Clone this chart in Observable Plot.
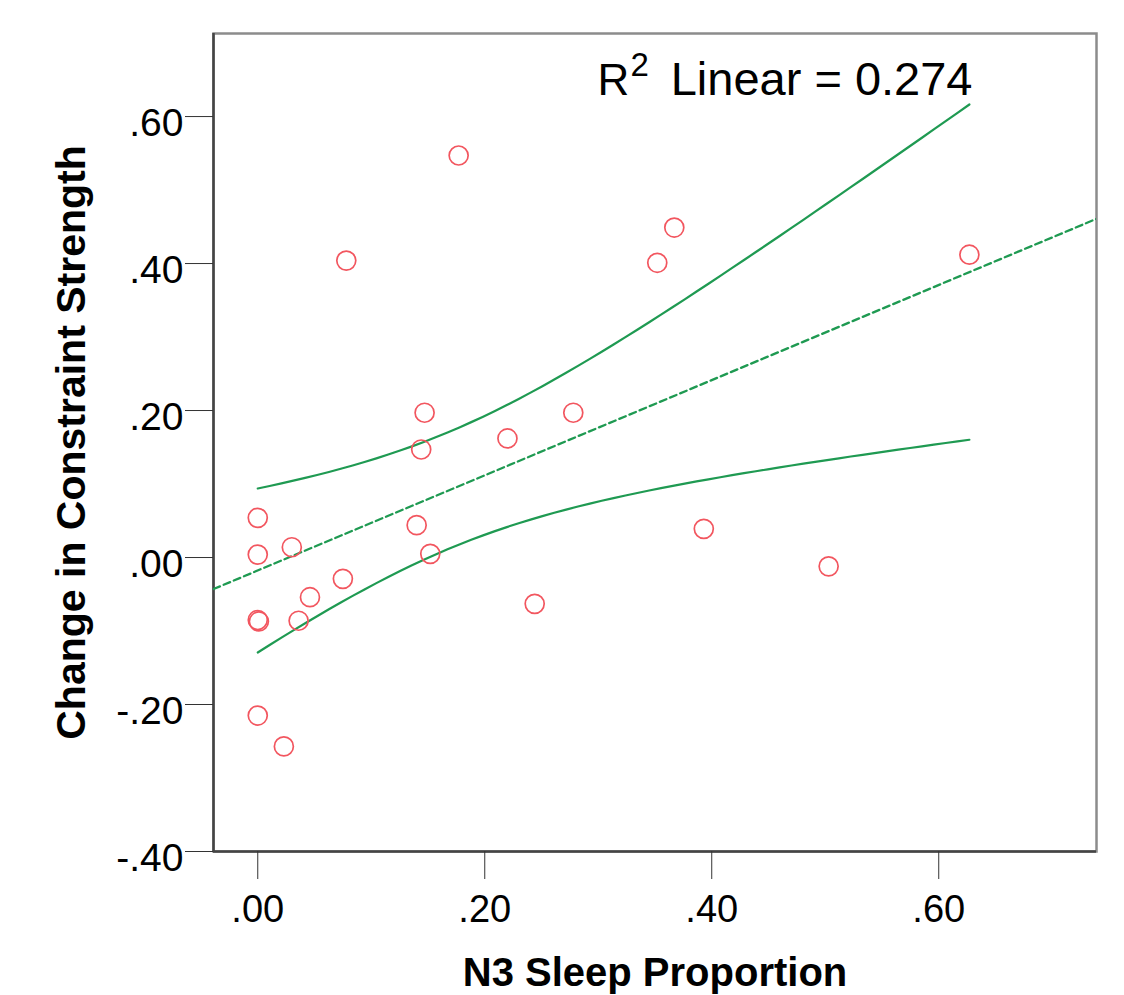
<!DOCTYPE html>
<html><head><meta charset="utf-8">
<script src="https://cdn.jsdelivr.net/npm/d3@7"></script>
<script src="https://cdn.jsdelivr.net/npm/@observablehq/plot@0.6"></script>
<style>body{margin:0;background:#fff}</style>
</head><body><div id="chart"></div>
<script>
// Data
const n3Sleep = [0, 0, 0, 0.001, 0, 0.023, 0.030, 0.046, 0.036, 0.075, 0.078, 0.140, 0.147, 0.144, 0.152, 0.177, 0.220, 0.244, 0.278, 0.352, 0.367, 0.393, 0.503, 0.627];
const constraintChange = [0.054, 0.004, -0.085, -0.087, -0.215, -0.257, 0.014, -0.054, -0.086, -0.029, 0.404, 0.044, 0.197, 0.147, 0.005, 0.547, 0.162, -0.063, 0.197, 0.401, 0.449, 0.039, -0.012, 0.412];
const xTicks = [0, 0.2, 0.4, 0.6];
const yTicks = [-0.4, -0.2, 0, 0.2, 0.4, 0.6];
const xDomain = [-0.039, 0.739];
const yDomain = [-0.4, 0.713];
const r2Base = "R", r2Sup = "2", r2Rest = "Linear = 0.274";
const xTitle = "N3 Sleep Proportion";
const yTitle = "Change in Constraint Strength";
const tCrit = 2.074; // t(0.975, df = 22)

const pts = n3Sleep.map((x, i) => ({x, y: constraintChange[i]}));

// Linear regression + 95% CI of mean
const n = pts.length;
const mx = d3.mean(pts, d => d.x), my = d3.mean(pts, d => d.y);
const sxx = d3.sum(pts, d => (d.x - mx) ** 2);
const sxy = d3.sum(pts, d => (d.x - mx) * (d.y - my));
const b = sxy / sxx, a = my - b * mx;
const sse = d3.sum(pts, d => (d.y - a - b * d.x) ** 2);
const s = Math.sqrt(sse / (n - 2));
const [xmin, xmax] = d3.extent(n3Sleep);
const fitLine = xDomain.map(x => ({x, y: a + b * x}));
const band = d3.range(0, 61).map(i => {
  const x = xmin + (xmax - xmin) * i / 60;
  const h = tCrit * s * Math.sqrt(1 / n + (x - mx) ** 2 / sxx);
  return {x, lo: a + b * x - h, hi: a + b * x + h};
});

const fmt = v => d3.format(".2f")(v).replace(/^[-\u2212]/, "-").replace(/^(-?)0\./, "$1.");
const green = "#1f9a52";
const font = "'Liberation Sans', Arial, sans-serif";

const chart = Plot.plot({
  width: 1124, height: 995,
  marginLeft: 213, marginRight: 28, marginTop: 33, marginBottom: 144,
  style: {fontFamily: font, background: "#fff", color: "#000"},
  x: {domain: xDomain},
  y: {domain: yDomain},
  marks: [
    Plot.frame({stroke: "#8c8c8c", strokeWidth: 2.5}),
    Plot.ruleX([xDomain[0]], {stroke: "#444", strokeWidth: 2.5}),
    Plot.ruleY([yDomain[0]], {stroke: "#444", strokeWidth: 2.5}),
    Plot.axisX(xTicks, {tickSize: 28, tickPadding: 16, tickFormat: fmt, fontSize: 38, stroke: "#333", fill: "#000", label: null}),
    Plot.axisY(yTicks, {tickSize: 28, tickFormat: () => "", stroke: "#333", label: null}),
    Plot.text(yTicks, {frameAnchor: "left", y: d => d, text: fmt, dx: -30, dy: 7, textAnchor: "end", fontSize: 39, fill: "#000"}),
    Plot.line(fitLine, {x: "x", y: "y", stroke: green, strokeWidth: 2.3, strokeDasharray: "7,4", clip: true}),
    Plot.line(band, {x: "x", y: "hi", stroke: green, strokeWidth: 2.2}),
    Plot.line(band, {x: "x", y: "lo", stroke: green, strokeWidth: 2.2}),
    Plot.dot(pts, {x: "x", y: "y", r: 9.5, stroke: "#f2565f", strokeWidth: 1.7, fill: "none"}),
    Plot.text([r2Base], {frameAnchor: "top-right", dx: -499, dy: 61, textAnchor: "start", lineAnchor: "bottom", fontSize: 44, fill: "#000"}),
    Plot.text([r2Sup], {frameAnchor: "top-right", dx: -466, dy: 42, textAnchor: "start", lineAnchor: "bottom", fontSize: 33, fill: "#000"}),
    Plot.text([r2Rest], {frameAnchor: "top-right", dx: -124, dy: 61, textAnchor: "end", lineAnchor: "bottom", fontSize: 47, fill: "#000"}),
    Plot.text([xTitle], {frameAnchor: "bottom", dy: 134, textAnchor: "middle", lineAnchor: "bottom", fontSize: 40, fontWeight: "bold", fill: "#000"}),
    Plot.text([yTitle], {frameAnchor: "left", rotate: -90, dx: -129, textAnchor: "middle", lineAnchor: "bottom", fontSize: 41, fontWeight: "bold", fill: "#000"})
  ]
});
document.getElementById("chart").appendChild(chart);
</script>
</body></html>
